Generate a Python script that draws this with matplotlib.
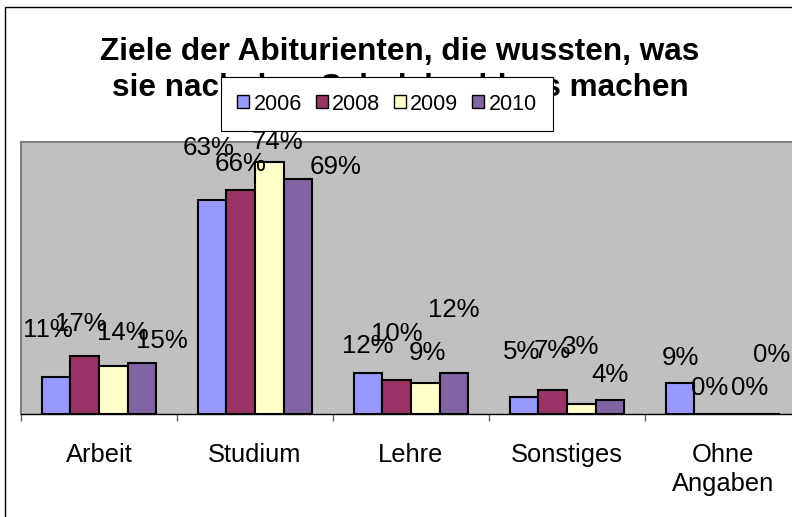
import numpy as np
import matplotlib
matplotlib.use("Agg")
import matplotlib.pyplot as plt
from matplotlib.patches import Rectangle, Patch

plt.rcParams['font.family'] = ['Liberation Sans', 'DejaVu Sans']

# Daten
kategorien = ['Arbeit', 'Studium', 'Lehre', 'Sonstiges', 'Ohne\nAngaben']
jahre = ['2006', '2008', '2009', '2010']
werte_2006 = [11, 63, 12, 5, 9]
werte_2008 = [17, 66, 10, 7, 0]
werte_2009 = [14, 74, 9, 3, 0]
werte_2010 = [15, 69, 12, 4, 0]
werte = [werte_2006, werte_2008, werte_2009, werte_2010]
farben = ['#9999FF', '#993366', '#FFFFCC', '#8064A2']

# Verschiebung der Beschriftungen (Pixel, dx / dy nach oben), wie im Original
versatz = [
    [(-8, 47), (-4, 52), (0, 27), (-3, 45), (0, 25)],
    [(-4, 32), (0, 26), (0, 46), (0, 39), (1, 26)],
    [(10, 33), (8, 20), (2, 30), (-1, 57), (12, 26)],
    [(20, 22), (38, 12), (0, 63), (0, 25), (6, 59)],
]

W, H = 792, 517
fig = plt.figure(figsize=(W / 100, H / 100), dpi=100)

# Rahmen des Diagramms (rechts/unten abgeschnitten)
fig.patches.append(Rectangle((5 / W, -0.1), 1.2, 1 - 7 / H + 0.1,
                             transform=fig.transFigure, fill=False,
                             edgecolor='black', lw=1))

ax = fig.add_axes([21 / W, 103 / H, 780 / W, 272 / H])
ax.set_facecolor('#C0C0C0')

x = np.arange(len(kategorien))
bw = 0.183
for j, (serie, farbe) in enumerate(zip(werte, farben)):
    pos = x + (j - 1.5) * bw
    ax.bar(pos, serie, width=bw, color=farbe, edgecolor='black', linewidth=1.5, zorder=3)
    for i, v in enumerate(serie):
        dx, dy = versatz[j][i]
        ax.annotate(f"{v}%", xy=(pos[i], v), xytext=(dx, dy),
                    textcoords='offset pixels', ha='center', va='center',
                    fontsize=18.6, zorder=4)

ax.set_xlim(-0.5, 4.5)
ax.set_ylim(0, 80)
ax.set_yticks([])
ax.set_xticks(x)
ax.set_xticklabels(kategorien, fontsize=18.4, linespacing=1.25)
ax.set_xticks(np.arange(-0.5, 5.0, 1), minor=True)
ax.tick_params(axis='x', which='major', length=0, pad=21)
ax.tick_params(axis='x', which='minor', length=5, width=1, color='#606060')

for s in ['top', 'left']:
    ax.spines[s].set_color('#808080')
    ax.spines[s].set_linewidth(1.5)
ax.spines['right'].set_visible(False)
ax.spines['bottom'].set_color('black')
ax.spines['bottom'].set_linewidth(1)

fig.text(400 / W, 1 - 37 / H,
         "Ziele der Abiturienten, die wussten, was\nsie nach dem Schulabschluss machen",
         ha='center', va='top', fontsize=22.7, fontweight='bold', linespacing=1.25)

griffe = [Patch(facecolor=f, edgecolor='black', linewidth=1) for f in farben]
leg = fig.legend(griffe, jahre, loc='center', bbox_to_anchor=(387 / W, 1 - 104 / H),
                 ncol=4, fontsize=15.5, frameon=True, fancybox=False, framealpha=1,
                 edgecolor='black', handlelength=0.55, handleheight=0.55,
                 handletextpad=0.2, columnspacing=0.65, borderpad=0.75)
leg.get_frame().set_linewidth(0.8)

fig.savefig('out.png', dpi=100)
